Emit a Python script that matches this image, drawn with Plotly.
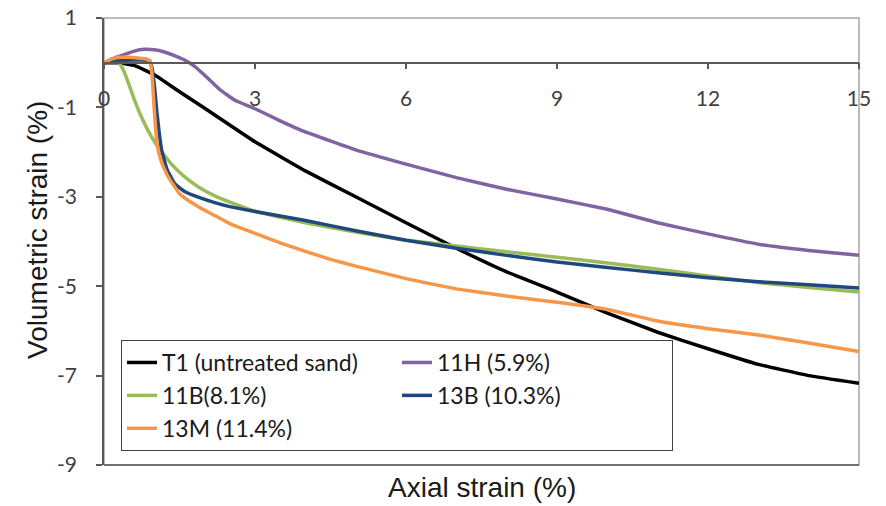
import plotly.graph_objects as go

# ---------------- data ----------------
x_t1 = [0, 0.3, 0.6, 1, 1.5, 2, 3, 4, 5, 6, 7, 8, 9, 10, 11, 12, 13, 14, 15]
y_t1 = [0, 0.0, -0.06, -0.27, -0.65, -1.02, -1.77, -2.42, -3.0, -3.58, -4.15,
        -4.68, -5.13, -5.6, -6.03, -6.4, -6.75, -7.0, -7.17]

x_11h = [0, 0.2, 0.4, 0.6, 0.8, 1.0, 1.2, 1.4, 1.6, 1.8, 2.0, 2.3, 2.6, 3, 3.5,
         4, 5, 6, 7, 8, 9, 10, 11, 12, 13, 14, 15]
y_11h = [0, 0.1, 0.18, 0.26, 0.3, 0.29, 0.24, 0.16, 0.06, -0.08, -0.28, -0.6,
         -0.84, -1.03, -1.3, -1.55, -1.95, -2.27, -2.57, -2.83, -3.05, -3.28,
         -3.58, -3.83, -4.06, -4.2, -4.31]

x_11b = [0, 0.15, 0.3, 0.4, 0.5, 0.6, 0.7, 0.8, 0.9, 1.05, 1.2, 1.35, 1.5, 1.7,
         1.9, 2.2, 2.5, 3, 3.5, 4, 5, 6, 7, 8, 9, 10, 11, 12, 13, 14, 15]
y_11b = [0, 0.03, 0.0, -0.2, -0.5, -0.82, -1.1, -1.35, -1.57, -1.85, -2.07,
         -2.28, -2.45, -2.64, -2.8, -2.98, -3.12, -3.32, -3.46, -3.58, -3.79,
         -3.97, -4.1, -4.23, -4.35, -4.48, -4.62, -4.77, -4.92, -5.03, -5.13]

x_13b = [0, 0.3, 0.6, 0.9, 0.95, 1.0, 1.05, 1.1, 1.15, 1.25, 1.4, 1.6, 1.9,
         2.2, 2.5, 3, 3.5, 4, 5, 6, 7, 8, 9, 10, 11, 12, 13, 14, 15]
y_13b = [0, 0.05, 0.06, 0.05, -0.1, -0.5, -1.1, -1.6, -1.98, -2.38, -2.7,
         -2.88, -3.02, -3.13, -3.22, -3.33, -3.43, -3.53, -3.76, -3.97, -4.15,
         -4.31, -4.46, -4.58, -4.7, -4.81, -4.9, -4.97, -5.04]

x_13m = [0, 0.15, 0.3, 0.5, 0.7, 0.85, 0.92, 0.96, 0.99, 1.02, 1.06, 1.12,
         1.2, 1.3, 1.5, 1.7, 1.9, 2.2, 2.5, 3, 3.5, 4, 4.5, 5, 6, 7, 8, 9, 10,
         11, 12, 13, 14, 15]
y_13m = [0, 0.08, 0.12, 0.12, 0.1, 0.08, 0.02, -0.35, -0.9, -1.4, -1.85, -2.15,
         -2.38, -2.6, -2.93, -3.1, -3.24, -3.42, -3.6, -3.82, -4.03, -4.22,
         -4.4, -4.55, -4.83, -5.06, -5.22, -5.36, -5.52, -5.78, -5.95, -6.09,
         -6.27, -6.46]

names = ["T1 (untreated sand)", "11H (5.9%)", "11B(8.1%)", "13B (10.3%)", "13M (11.4%)"]
colors = ["#000000", "#8064A2", "#9BBB59", "#1F497D", "#F79646"]

x_ticks = [0, 3, 6, 9, 12, 15]
y_ticks = [1, -1, -3, -5, -7, -9]
y_ticktext = ["1", "-1", "-3", "-5", "-7", "-9"]

x_title = "Axial strain (%)"
y_title = "Volumetric strain (%)"

# ---------------- figure ----------------
series = [(x_t1, y_t1), (x_11h, y_11h), (x_11b, y_11b), (x_13b, y_13b), (x_13m, y_13m)]

fig = go.Figure()
for i, (xs, ys) in enumerate(series):
    fig.add_trace(go.Scatter(
        x=xs, y=ys, mode="lines", name=names[i],
        line=dict(color=colors[i], width=3.5, shape="spline", smoothing=0.3),
    ))

axis_font = dict(family="Lato, Carlito, sans-serif", size=21, color="#404040")
title_font = dict(family="Liberation Sans, Arial, sans-serif", size=28, color="#1a1a1a")

# the page body adds an 8px margin, so the figure is sized to fit inside the window
fig.update_layout(
    width=878, height=498,
    margin=dict(l=96, r=27, t=10, b=41),
    paper_bgcolor="white", plot_bgcolor="white",
    showlegend=True,
    xaxis=dict(
        range=[0, 15], tickvals=x_ticks, ticktext=[str(v) for v in x_ticks],
        anchor="free", position=0.9, automargin=False,
        showline=True, linecolor="#595959", linewidth=1.5,
        ticks="outside", ticklen=6, tickcolor="#595959", tickwidth=1.5,
        ticklabelstandoff=11, ticklabeloverflow="allow",
        showgrid=False, zeroline=False, tickfont=axis_font,
    ),
    yaxis=dict(
        range=[-9, 1], tickvals=y_ticks, ticktext=y_ticktext, automargin=False,
        showline=True, linecolor="#595959", linewidth=1.5,
        ticks="outside", ticklen=6, tickcolor="#595959", tickwidth=1.5,
        ticklabelstandoff=15, ticklabeloverflow="allow",
        showgrid=False, zeroline=False, tickfont=axis_font,
    ),
    legend=dict(
        orientation="h", x=0.0225, y=0.2796, xanchor="left", yanchor="top",
        bgcolor="white", bordercolor="#404040", borderwidth=1,
        font=dict(family="Lato, Carlito, sans-serif", size=23, color="#1a1a1a"),
        entrywidth=230, entrywidthmode="pixels",
        traceorder="normal",
    ),
    shapes=[
        dict(type="rect", xref="paper", yref="paper", x0=0, x1=1, y0=0, y1=1,
             line=dict(color="#A6A6A6", width=1.5), layer="below"),
        dict(type="line", xref="paper", yref="paper", x0=0, x1=1, y0=0, y1=0,
             line=dict(color="#595959", width=1.5), layer="below"),
    ],
    annotations=[
        dict(text=x_title, xref="paper", yref="paper", x=0.5, y=0,
             yshift=-22, xanchor="center", yanchor="middle", showarrow=False,
             font=title_font),
        dict(text=y_title, xref="paper", yref="paper", x=0, y=0.526,
             xshift=-66, xanchor="center", yanchor="middle", showarrow=False,
             textangle=-90, font=title_font),
    ],
)

fig.write_html("out.html")
